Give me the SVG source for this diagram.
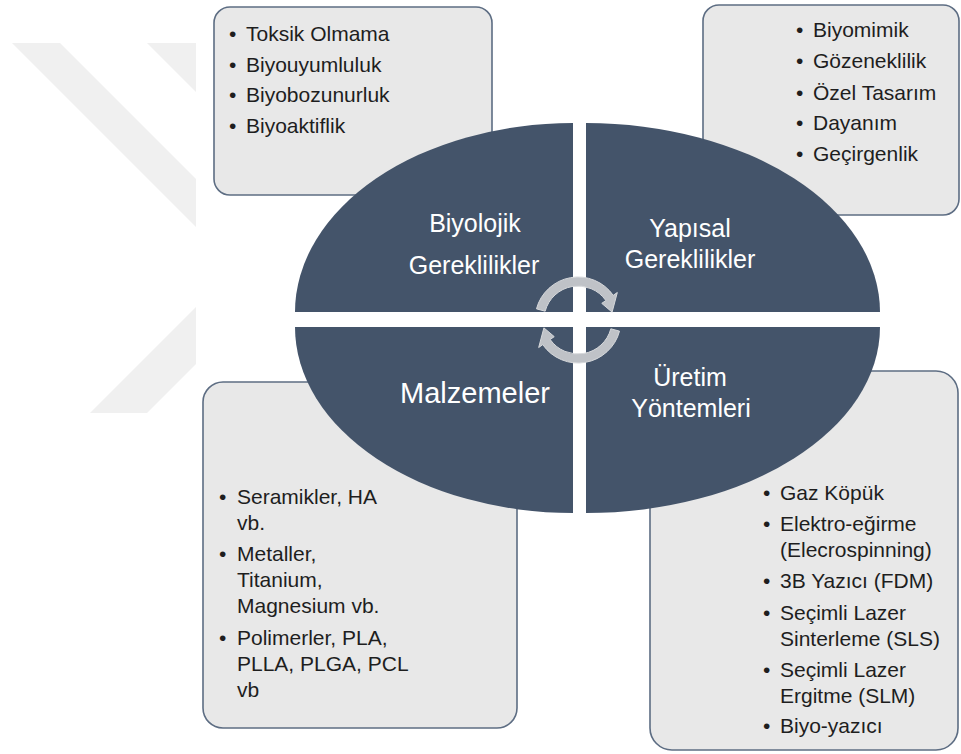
<svg xmlns="http://www.w3.org/2000/svg" width="961" height="754" viewBox="0 0 961 754">
<style>
.wm{fill:#f0f0f0}
.box{fill:#e8e8e8;stroke:#5d6d83;stroke-width:1.6}
.q{fill:#44546a}
.t{font-family:"Liberation Sans",Arial,sans-serif;font-size:21px;fill:#1e1e1e}
.lbl{font-family:"Liberation Sans",Arial,sans-serif;font-size:25px;fill:#ffffff;text-anchor:middle}
.arr{fill:#bfc2c7;stroke:#d6d8db;stroke-width:1}
</style>
<rect width="961" height="754" fill="#ffffff"/>
<g id="watermark">
<polygon class="wm" points="12,43 60,43 196,179 196,227"/>
<polygon class="wm" points="147,43 196,43 196,92"/>
<polygon class="wm" points="90,413 147,413 196,364 196,307"/>
</g>
<g id="box-biyolojik">
<rect class="box" x="214" y="7" width="278" height="188" rx="16"/>
<text class="t"><tspan x="229" y="41">•</tspan><tspan x="246" y="41">Toksik Olmama</tspan></text>
<text class="t"><tspan x="229" y="72">•</tspan><tspan x="246" y="72">Biyouyumluluk</tspan></text>
<text class="t"><tspan x="229" y="102">•</tspan><tspan x="246" y="102">Biyobozunurluk</tspan></text>
<text class="t"><tspan x="229" y="133">•</tspan><tspan x="246" y="133">Biyoaktiflik</tspan></text>
</g>
<g id="box-yapisal">
<rect class="box" x="703" y="5" width="256" height="210" rx="16"/>
<text class="t"><tspan x="796" y="37">•</tspan><tspan x="813" y="37">Biyomimik</tspan></text>
<text class="t"><tspan x="796" y="68">•</tspan><tspan x="813" y="68">Gözeneklilik</tspan></text>
<text class="t"><tspan x="796" y="100">•</tspan><tspan x="813" y="100">Özel Tasarım</tspan></text>
<text class="t"><tspan x="796" y="130">•</tspan><tspan x="813" y="130">Dayanım</tspan></text>
<text class="t"><tspan x="796" y="161">•</tspan><tspan x="813" y="161">Geçirgenlik</tspan></text>
</g>
<g id="box-malzemeler">
<rect class="box" x="203" y="382" width="314" height="346" rx="20"/>
<text class="t"><tspan x="219" y="504">•</tspan><tspan x="237" y="504">Seramikler, HA</tspan><tspan x="237" y="530">vb.</tspan></text>
<text class="t"><tspan x="219" y="561">•</tspan><tspan x="237" y="561">Metaller,</tspan><tspan x="237" y="587">Titanium,</tspan><tspan x="237" y="613">Magnesium vb.</tspan></text>
<text class="t"><tspan x="219" y="645">•</tspan><tspan x="237" y="645">Polimerler, PLA,</tspan><tspan x="237" y="671">PLLA, PLGA, PCL</tspan><tspan x="237" y="697">vb</tspan></text>
</g>
<g id="box-uretim">
<rect class="box" x="650" y="371" width="308" height="379" rx="22"/>
<text class="t"><tspan x="763" y="500">•</tspan><tspan x="780" y="500">Gaz Köpük</tspan></text>
<text class="t"><tspan x="763" y="531">•</tspan><tspan x="780" y="531">Elektro-eğirme</tspan><tspan x="780" y="557">(Elecrospinning)</tspan></text>
<text class="t"><tspan x="763" y="588">•</tspan><tspan x="780" y="588">3B Yazıcı (FDM)</tspan></text>
<text class="t"><tspan x="763" y="620">•</tspan><tspan x="780" y="620">Seçimli Lazer</tspan><tspan x="780" y="646">Sinterleme (SLS)</tspan></text>
<text class="t"><tspan x="763" y="677">•</tspan><tspan x="780" y="677">Seçimli Lazer</tspan><tspan x="780" y="703">Ergitme (SLM)</tspan></text>
<text class="t"><tspan x="763" y="733">•</tspan><tspan x="780" y="733">Biyo-yazıcı</tspan></text>
</g>
<g id="q-biyolojik">
<path class="q" d="M573,312 L295,312 A278,189 0 0,1 573,123 Z"/>
<text class="lbl"><tspan x="475" y="232">Biyolojik</tspan><tspan x="474" y="274">Gereklilikler</tspan></text>
</g>
<g id="q-yapisal">
<path class="q" d="M586,312 L586,123 A294,189 0 0,1 880,312 Z"/>
<text class="lbl"><tspan x="690" y="237">Yapısal</tspan><tspan x="690" y="268">Gereklilikler</tspan></text>
</g>
<g id="q-malzemeler">
<path class="q" d="M573,327 L295,327 A278,186 0 0,0 573,513 Z"/>
<text class="lbl" style="font-size:29px"><tspan x="475" y="403">Malzemeler</tspan></text>
</g>
<g id="q-uretim">
<path class="q" d="M586,327 L880,327 A294,186 0 0,1 586,513 Z"/>
<text class="lbl"><tspan x="690" y="386">Üretim</tspan><tspan x="691" y="417">Yöntemleri</tspan></text>
</g>
<g id="connectors">
<path class="arr" d="M536.47,308.87 A43,43 0 0,1 613.22,295.34 L617.32,292.47 L612.10,312.13 L601.76,303.37 L605.85,300.50 A34,34 0 0,0 545.16,311.20 Z"/>
<path class="arr" d="M619.53,331.13 A43,43 0 0,1 542.78,344.66 L538.68,347.53 L543.90,327.87 L554.24,336.63 L550.15,339.50 A34,34 0 0,0 610.84,328.80 Z"/>
</g>
</svg>
